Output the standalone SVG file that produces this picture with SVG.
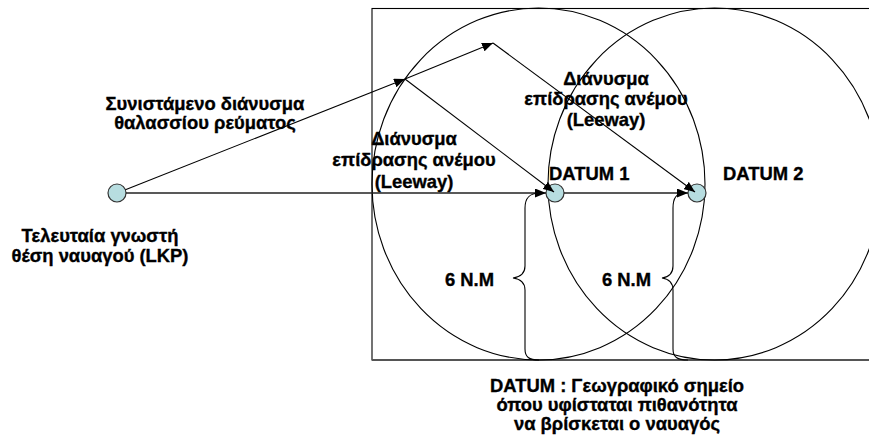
<svg xmlns="http://www.w3.org/2000/svg" width="869" height="436" viewBox="0 0 869 436">
<defs>
<marker id="ah" markerUnits="userSpaceOnUse" markerWidth="11" markerHeight="9" refX="11" refY="4.5" orient="auto">
<path d="M0,0 L11,4.5 L0,9 z" fill="#000"/>
</marker>
<style>
.t{font-family:"Liberation Sans",Arial,sans-serif;font-weight:bold;font-size:18.4px;fill:#000;stroke:#000;stroke-width:0.35}
.c{text-anchor:middle}
.ln{fill:none;stroke:#000;stroke-width:1.1}
.node{fill:#b7dde0;stroke:#333;stroke-width:1.2}
</style>
</defs>
<rect x="0" y="0" width="869" height="436" fill="#fff"/>
<g id="area">
<rect x="372" y="8.5" width="540" height="351.5" fill="none" stroke="#000" stroke-width="1.1"/>
<line x1="372" y1="360" x2="869" y2="360" stroke="#555" stroke-width="2"/>
<ellipse cx="538.5" cy="184" rx="166.5" ry="176" class="ln"/>
<ellipse cx="714.5" cy="184" rx="166.5" ry="176" class="ln"/>
</g>
<g id="lkp"><circle cx="117" cy="193" r="9" class="node"/></g>
<g id="datum1"><circle cx="555" cy="193" r="9" class="node"/></g>
<g id="datum2"><circle cx="697" cy="193" r="9" class="node"/></g>
<g id="connectors" class="ln">
<path d="M126 193 L546 193" marker-end="url(#ah)" stroke="#222" stroke-width="1.4"/>
<path d="M564 193 L688 193" marker-end="url(#ah)" stroke="#222" stroke-width="1.4"/>
<path d="M125.4 189.7 L405 79" marker-end="url(#ah)"/>
<path d="M405 79 L493 43" marker-end="url(#ah)"/>
<path d="M405 79 L554 192" marker-end="url(#ah)"/>
<path d="M493 43 L695 192" marker-end="url(#ah)"/>
</g>
<g id="brace1"><path class="ln" d="M540 193 C529 193 525 198 525 208 L525 266 C525 274 520 277 513 278 C520 279 525 282 525 290 L525 349 C525 357 529 360 539 360"/></g>
<g id="brace2"><path class="ln" d="M684 193 C677 193 673 198 673 208 L673 266 C673 274 669 277 662 278 C669 279 673 282 673 290 L673 349 C673 357 677 360 688 360"/></g>
<g id="labels">
<text class="t c" x="205" y="110">Συνιστάμενο διάνυσμα</text>
<text class="t c" x="205" y="129">θαλασσίου ρεύματος</text>
<text class="t c" x="100" y="242">Τελευταία γνωστή</text>
<text class="t c" x="100" y="262">θέση ναυαγού (LKP)</text>
<text class="t c" x="414" y="145">Διάνυσμα</text>
<text class="t c" x="414" y="166">επίδρασης ανέμου</text>
<text class="t c" x="414" y="188">(Leeway)</text>
<text class="t c" x="606" y="85">Διάνυσμα</text>
<text class="t c" x="606" y="105">επίδρασης ανέμου</text>
<text class="t c" x="606" y="126">(Leeway)</text>
<text class="t" x="549" y="180">DATUM 1</text>
<text class="t" x="723" y="180">DATUM 2</text>
<text class="t" x="445" y="286">6 N.M</text>
<text class="t" x="602" y="286">6 N.M</text>
<text class="t c" x="617" y="392">DATUM : Γεωγραφικό σημείο</text>
<text class="t c" x="617" y="411">όπου υφίσταται πιθανότητα</text>
<text class="t c" x="617" y="430">να βρίσκεται ο ναυαγός</text>
</g>
</svg>
